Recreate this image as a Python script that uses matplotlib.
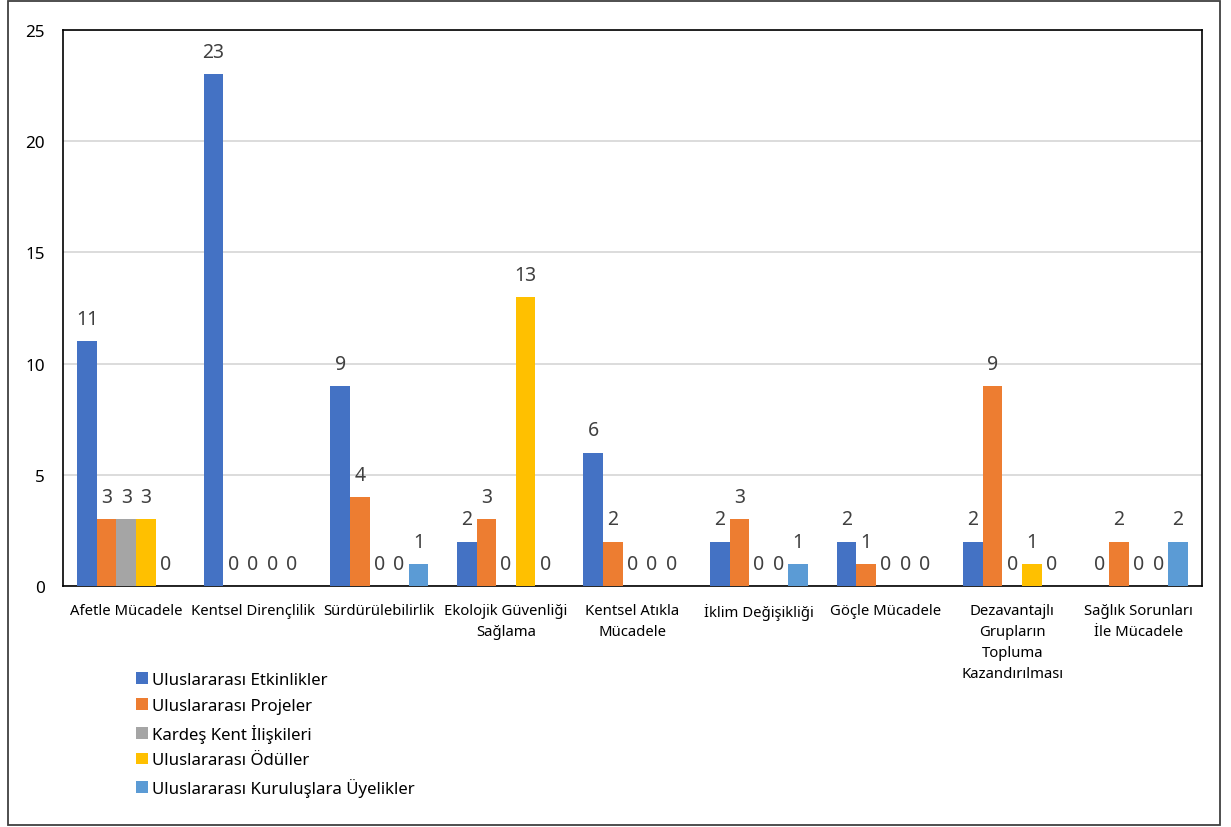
import numpy as np
import matplotlib.pyplot as plt
from matplotlib.patches import Rectangle

plt.rcParams['font.family'] = ['Noto Sans', 'DejaVu Sans']

categories = ['Afetle Mücadele', 'Kentsel Dirençlilik', 'Sürdürülebilirlik',
              'Ekolojik Güvenliği\nSağlama', 'Kentsel Atıkla\nMücadele',
              'İklim Değişikliği', 'Göçle Mücadele',
              'Dezavantajlı\nGrupların\nTopluma\nKazandırılması',
              'Sağlık Sorunları\nİle Mücadele']
series_names = ['Uluslararası Etkinlikler', 'Uluslararası Projeler',
                'Kardeş Kent İlişkileri', 'Uluslararası Ödüller',
                'Uluslararası Kuruluşlara Üyelikler']
etkinlikler = [11, 23, 9, 2, 6, 2, 2, 2, 0]
projeler = [3, 0, 4, 3, 2, 3, 1, 9, 2]
kardes = [3, 0, 0, 0, 0, 0, 0, 0, 0]
oduller = [3, 0, 0, 13, 0, 0, 0, 1, 0]
uyelikler = [0, 0, 1, 0, 0, 1, 0, 0, 2]
colors = ['#4472C4', '#ED7D31', '#A5A5A5', '#FFC000', '#5B9BD5']

values = [etkinlikler, projeler, kardes, oduller, uyelikler]

fig = plt.figure(figsize=(12.31, 8.28), dpi=100)
ax = fig.add_axes([63 / 1231, 1 - 587 / 828, (1202 - 63) / 1231, (587 - 31) / 828])

x = np.arange(len(categories))
w = 0.155
for i, (vals, c, name) in enumerate(zip(values, colors, series_names)):
    pos = x + (i - 2) * w
    bars = ax.bar(pos, vals, width=w, color=c, label=name, zorder=3)
    for p, v in zip(pos, vals):
        ax.text(p, v + 0.55, str(v), ha='center', va='bottom', fontsize=14,
                color='#404040')

ax.set_xlim(-0.5, len(categories) - 0.5)
ax.set_ylim(0, 25)
ax.set_yticks([0, 5, 10, 15, 20, 25])
ax.yaxis.grid(True, color='#D9D9D9', linewidth=1.3, zorder=0)
ax.set_xticks(x)
ax.set_xticklabels(categories, fontsize=10.7, linespacing=1.55)
ax.tick_params(axis='both', length=0)
ax.tick_params(axis='x', pad=12, labelsize=10.7)
ax.tick_params(axis='y', pad=13, labelsize=12.3)
for s in ax.spines.values():
    s.set_color('black')
    s.set_linewidth(1.2)

handles, labels = ax.get_legend_handles_labels()
fig.legend(handles, labels, loc='upper left', bbox_to_anchor=(121 / 1231, 1 - 658 / 828),
           frameon=False, fontsize=12.1, handlelength=0.7, handleheight=0.7,
           handletextpad=0.25, labelspacing=0.58)

fig.patches.append(Rectangle((8 / 1231, 2 / 828), 1212 / 1231, 824 / 828,
                             transform=fig.transFigure, fill=False,
                             edgecolor='#404040', linewidth=1.3))

fig.savefig('out.png', dpi=100)
